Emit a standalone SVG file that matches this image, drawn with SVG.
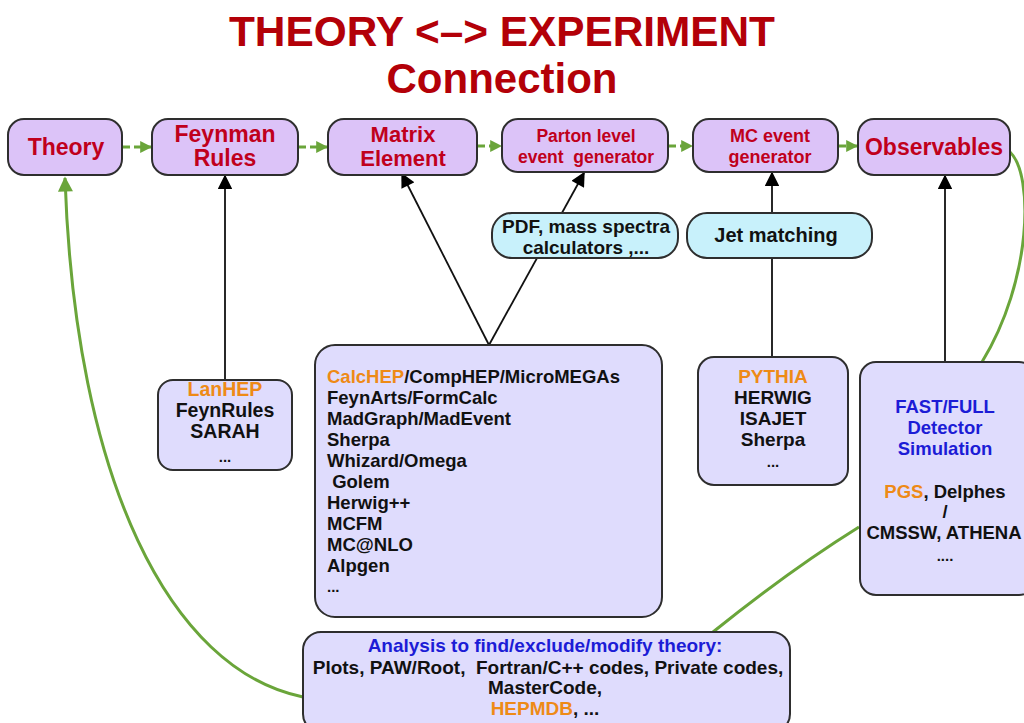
<svg xmlns="http://www.w3.org/2000/svg" width="1024" height="723" viewBox="0 0 1024 723">
<defs>
<marker id="ag" viewBox="0 0 10 10" refX="9" refY="5" markerWidth="4" markerHeight="4" markerUnits="strokeWidth" orient="auto"><path d="M0,0 L10,5 L0,10 z" fill="#6aa53a"/></marker>
<marker id="agb" viewBox="0 0 10 10" refX="9" refY="5" markerWidth="5.5" markerHeight="5" markerUnits="strokeWidth" orient="auto"><path d="M0,0 L10,5 L0,10 z" fill="#6aa53a"/></marker>
<marker id="ab" viewBox="0 0 10 10" refX="9" refY="5" markerWidth="9" markerHeight="8" markerUnits="strokeWidth" orient="auto"><path d="M0,0 L10,5 L0,10 z" fill="#000"/></marker>
</defs>
<style>
.top{fill:#dcc3f8;stroke:#2e2e2e;stroke-width:2}
.low{fill:#dfdcfd;stroke:#2e2e2e;stroke-width:2}
.cy{fill:#c8f1fb;stroke:#2e2e2e;stroke-width:2}
text{font-family:"Liberation Sans",Arial,sans-serif;font-weight:bold}
.red{fill:#c0001c}
.blk{fill:#111}
.org{fill:#ee8a16}
.blu{fill:#1c1cd6}
.title{fill:#b30008;font-size:42px}
.g{stroke:#6aa53a;stroke-width:3;fill:none}
.gd{stroke:#6aa53a;stroke-width:3;fill:none;stroke-dasharray:8 4}
.k{stroke:#111;stroke-width:1.8;fill:none}
</style>
<rect width="1024" height="723" fill="#fff"/>
<g id="title" text-anchor="middle">
<text x="502" y="46" class="title" textLength="546" lengthAdjust="spacingAndGlyphs">THEORY &lt;–&gt; EXPERIMENT</text>
<text x="502" y="93" class="title">Connection</text>
</g>
<g id="connectors">
<line x1="122" y1="147" x2="151" y2="147" class="gd" marker-end="url(#ag)"/>
<line x1="298" y1="147" x2="327" y2="147" class="gd" marker-end="url(#ag)"/>
<line x1="477" y1="146" x2="501" y2="146" class="gd" marker-end="url(#ag)"/>
<line x1="668" y1="146" x2="692" y2="146" class="gd" marker-end="url(#ag)"/>
<line x1="838" y1="146" x2="857" y2="146" class="gd" marker-end="url(#ag)"/>
<line x1="225" y1="380" x2="225" y2="176" class="k" marker-end="url(#ab)"/>
<line x1="489" y1="345" x2="402" y2="174" class="k" marker-end="url(#ab)"/>
<line x1="489" y1="345" x2="584" y2="173" class="k" marker-end="url(#ab)"/>
<line x1="772" y1="357" x2="772" y2="173" class="k" marker-end="url(#ab)"/>
<line x1="945" y1="362" x2="945" y2="176" class="k" marker-end="url(#ab)"/>
<path d="M303,697 C170,670 75,480 65,178" class="g" marker-end="url(#agb)"/>
<path d="M1010,152 C1034,175 1032,280 982,362" class="g"/>
<path d="M859,527 Q790,570 713,632" class="g"/>
</g>
<g id="theory"><rect x="8" y="119" width="114" height="56" rx="16" class="top"/><text x="66" y="155" font-size="23" text-anchor="middle" class="red">Theory</text></g>
<g id="feynman"><rect x="152" y="119" width="146" height="56" rx="16" class="top"/><text x="225" y="142" font-size="23" text-anchor="middle" class="red">Feynman</text><text x="225" y="166" font-size="23" text-anchor="middle" class="red">Rules</text></g>
<g id="matrix"><rect x="328" y="119" width="149" height="56" rx="16" class="top"/><text x="403" y="142" font-size="22" text-anchor="middle" class="red">Matrix</text><text x="403" y="166" font-size="22" text-anchor="middle" class="red">Element</text></g>
<g id="parton"><rect x="502" y="119" width="166" height="53" rx="16" class="top"/><text x="586" y="142" font-size="17.5" text-anchor="middle" class="red">Parton level</text><text x="586" y="163" font-size="17.5" text-anchor="middle" class="red" xml:space="preserve">event  generator</text></g>
<g id="mcevent"><rect x="693" y="119" width="145" height="53" rx="16" class="top"/><text x="770" y="142" font-size="18" text-anchor="middle" class="red">MC event</text><text x="770" y="163" font-size="18" text-anchor="middle" class="red">generator</text></g>
<g id="observables"><rect x="858" y="119" width="152" height="56" rx="16" class="top"/><text x="934" y="155" font-size="23" text-anchor="middle" class="red">Observables</text></g>
<g id="pdf"><rect x="492" y="213" width="186" height="45" rx="20" class="cy"/><text x="586" y="233" font-size="19" text-anchor="middle" class="blk">PDF, mass spectra</text><text x="586" y="254" font-size="19" text-anchor="middle" class="blk">calculators ,...</text></g>
<g id="jet"><rect x="687" y="213" width="185" height="45" rx="20" class="cy"/><text x="776" y="242" font-size="20" text-anchor="middle" class="blk">Jet matching</text></g>
<g id="lanhep"><rect x="158" y="380" width="134" height="90" rx="15" class="low"/><g font-size="19.5" text-anchor="middle"><text x="225" y="396" class="org">LanHEP</text><text x="225" y="417" class="blk">FeynRules</text><text x="225" y="438" class="blk">SARAH</text><text x="225" y="462" font-size="15" class="blk">...</text></g></g>
<g id="tools"><rect x="315" y="345" width="347" height="272" rx="20" class="low"/><g font-size="18.5"><text x="327" y="383"><tspan class="org">CalcHEP</tspan><tspan class="blk">/CompHEP/MicroMEGAs</tspan></text><text x="327" y="404" class="blk">FeynArts/FormCalc</text><text x="327" y="425" class="blk">MadGraph/MadEvent</text><text x="327" y="446" class="blk">Sherpa</text><text x="327" y="467" class="blk">Whizard/Omega</text><text x="327" y="488" class="blk" xml:space="preserve"> Golem</text><text x="327" y="509" class="blk">Herwig++</text><text x="327" y="530" class="blk">MCFM</text><text x="327" y="551" class="blk">MC@NLO</text><text x="327" y="572" class="blk">Alpgen</text><text x="327" y="592" font-size="15" class="blk">...</text></g></g>
<g id="pythia"><rect x="698" y="357" width="150" height="128" rx="16" class="low"/><g font-size="19" text-anchor="middle"><text x="773" y="383" class="org">PYTHIA</text><text x="773" y="404" class="blk">HERWIG</text><text x="773" y="425" class="blk">ISAJET</text><text x="773" y="446" class="blk">Sherpa</text><text x="773" y="467" font-size="15" class="blk">...</text></g></g>
<g id="detector"><rect x="860" y="362" width="175" height="233" rx="16" class="low"/><g font-size="18.5" text-anchor="middle"><text x="945" y="413" class="blu">FAST/FULL</text><text x="945" y="434" class="blu">Detector</text><text x="945" y="455" class="blu">Simulation</text><text x="945" y="498"><tspan class="org">PGS</tspan><tspan class="blk">, Delphes</tspan></text><text x="945" y="518" class="blk">/</text><text x="944" y="539" class="blk">CMSSW, ATHENA</text><text x="945" y="561" font-size="15" class="blk">....</text></g></g>
<g id="analysis"><rect x="303" y="632" width="487" height="100" rx="18" class="low"/><g font-size="19" text-anchor="middle"><text x="545" y="652" class="blu">Analysis to find/exclude/modify theory:</text><text x="548" y="674" class="blk" xml:space="preserve">Plots, PAW/Root,  Fortran/C++ codes, Private codes,</text><text x="545" y="694" class="blk">MasterCode,</text><text x="545" y="715"><tspan class="org">HEPMDB</tspan><tspan class="blk">, ...</tspan></text></g></g>
</svg>
